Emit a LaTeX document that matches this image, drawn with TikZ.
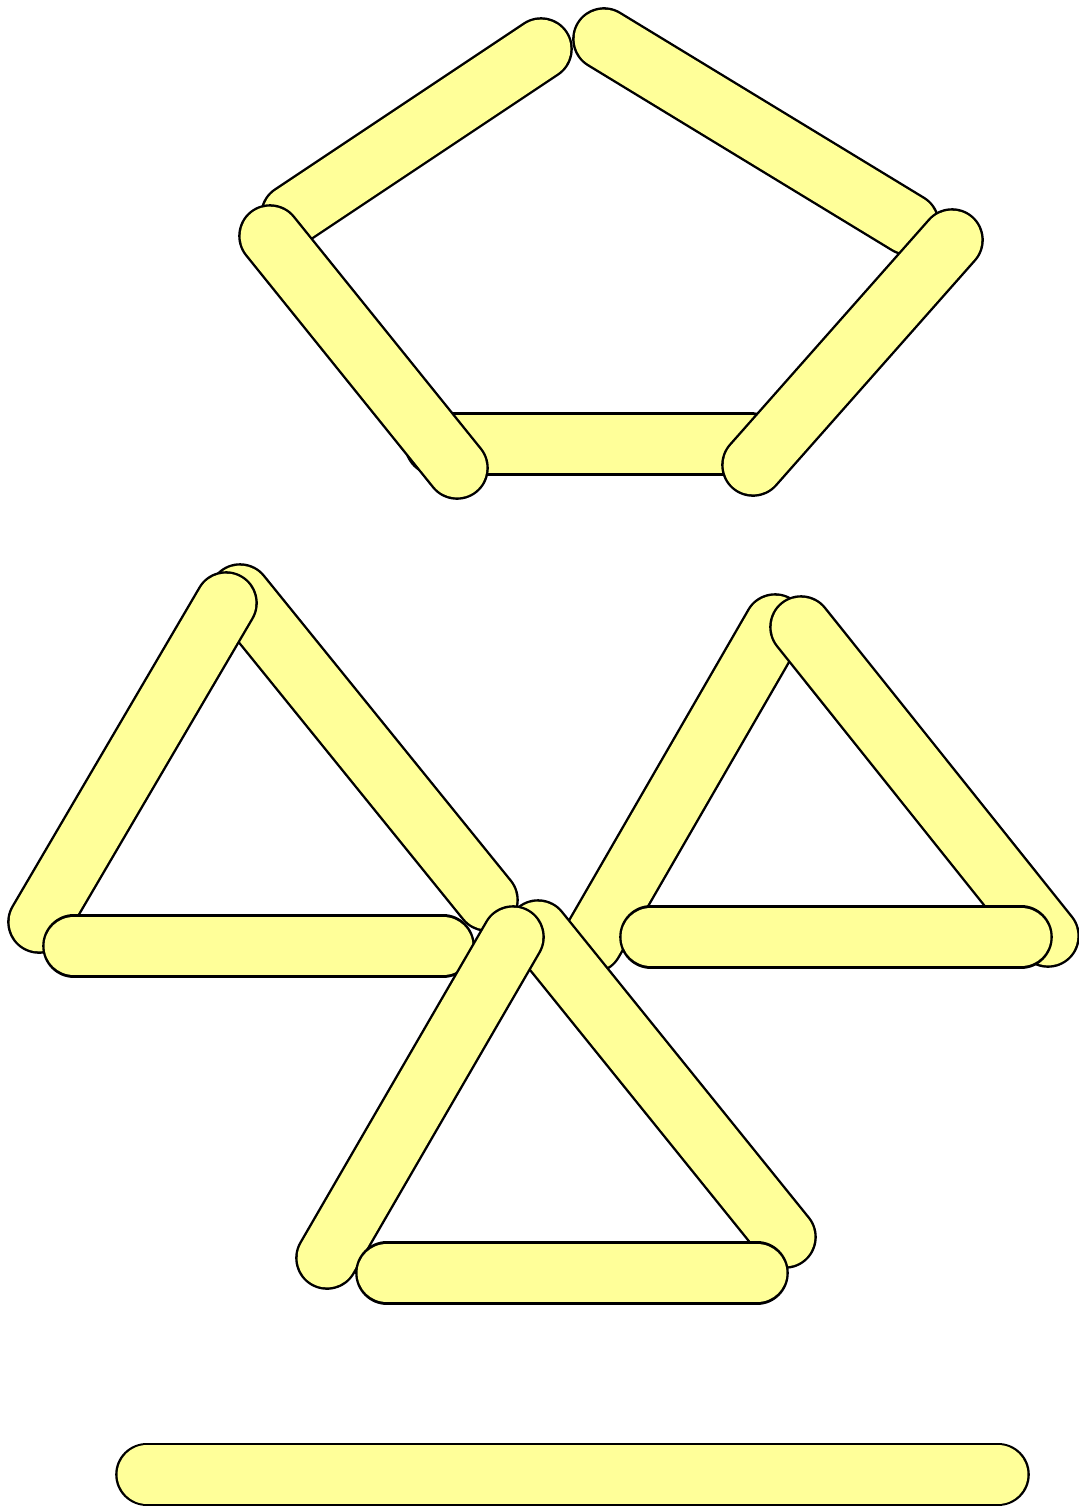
\documentclass[tikz,border=0pt]{standalone}
\usepackage{xcolor}
\usepackage{tikz}
\definecolor{cStick}{RGB}{255,255,153}
\tikzset{
  stickedge/.style={draw=black, line width=31.8pt, line cap=round},
  stickfill/.style={draw=cStick, line width=29.4pt, line cap=round},
}
\newcommand{\matchstick}[2]{%
  \draw[stickedge] #1 -- #2;
  \draw[stickfill] #1 -- #2;}

\begin{document}
\begin{tikzpicture}[x=0.5pt, y=-0.5pt]
  \useasboundingbox (0,0) rectangle (1079,1506);
  % pentagon
  \matchstick{(292,215)}{(541,49)}
  \matchstick{(604,39)}{(908,224)}
  \matchstick{(436,444)}{(750,444)}
  \matchstick{(270,236)}{(457,468)}
  \matchstick{(952,240)}{(753,465)}
  % left triangle
  \matchstick{(240,595)}{(487,900)}
  \matchstick{(226,603)}{(39,922)}
  \matchstick{(74,946)}{(443,946)}
  % right triangle
  \matchstick{(775,625)}{(592,942)}
  \matchstick{(801,627)}{(1048,936)}
  \matchstick{(651,937)}{(1021,937)}
  % lower triangle
  \matchstick{(538,931)}{(785,1237)}
  \matchstick{(513,937)}{(327,1258)}
  \matchstick{(387,1273)}{(757,1273)}
  % single stick
  \matchstick{(147,1474.5)}{(998,1474.5)}
\end{tikzpicture}
\end{document}
